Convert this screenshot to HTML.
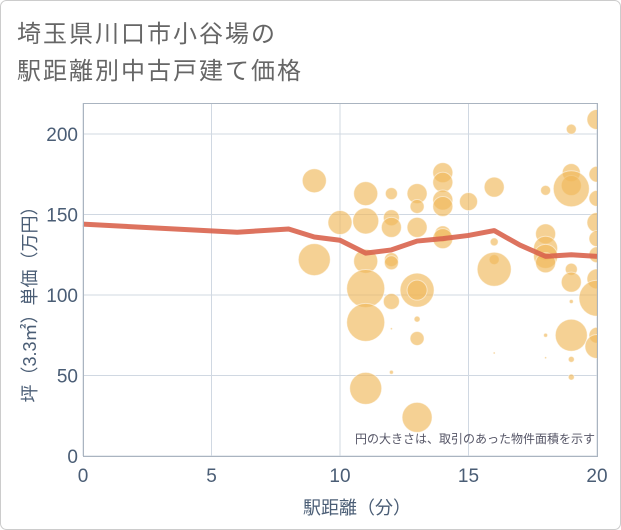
<!DOCTYPE html>
<html><head><meta charset="utf-8"><style>
body{margin:0;background:#fff;}
svg{display:block;font-family:"Liberation Sans","Noto Sans CJK JP",sans-serif;}
</style></head><body>
<svg id="chart" width="621" height="530">
<rect x="0.5" y="0.5" width="620" height="529" rx="6" fill="#fff" stroke="#ccc"/>
<text x="17" y="42" font-size="24" letter-spacing="2" fill="#666">埼玉県川口市小谷場の</text>
<text x="17" y="79" font-size="24" letter-spacing="2" fill="#666">駅距離別中古戸建て価格</text>
<g id="grid"></g>
<g id="bubbles"></g>
<g id="line"></g>
<rect x="83.5" y="103.5" width="514" height="353" fill="none" stroke="#aab4c0"/>
<g id="axes"></g>
<text x="595" y="443" font-size="12" fill="#556" text-anchor="end">円の大きさは、取引のあった物件面積を示す</text>
<text x="357" y="514" font-size="18" fill="#4a5d75" text-anchor="middle">駅距離（分）</text>
<text transform="translate(36,300) rotate(-90)" font-size="18" fill="#4a5d75" text-anchor="middle">坪（3.3㎡）単価（万円）</text>
</svg>
<script>
const xTicks=[0,5,10,15,20];
const yTicks=[0,50,100,150,200];
const bubbleX=[9,9,10,11,11,11,11,11,11,12,12,12,12,12,12,12,12,13,13,13,13,13,13,13,13,14,14,14,14,14,14,15,16,16,16,16,16,18,18,18,18,18,18,18,19,19,19,19,19,19,19,19,19,19,20,20,20,20,20,20,20,20,20,20];
const bubbleY=[171,122,145,163,146,121,104,83,42,163,148,142,122,120,96,79,52,163,155,142,103,103,85,73,24,176,170,159,155,138,135,158,167,133,122,116,64,165,138,129,124,120,75,61,203,176,168,166,116,108,96,75,60,49,209,175,160,145,135,125,110,98,75,68];
const bubbleR=[12,16,12,12,13,12,19,19,16,6,8,10,7,7,8,1,2,10,7,10,17,10,3,7,15,10,10,10,10,8,10,9,10,4,5,17,1,5,10,12,12,10,2,1,5,9,10,18,6,10,2,16,3,3,10,8,8,10,8,8,10,18,8,12];
const lineX=[0,6,8,9,10,11,12,13,14,15,16,17,18,19,20];
const lineY=[144,139,141,136,134,126,128,133.5,135,137,140,131,124,125,124];
const X0=83,X1=597,Y0=456,Y1=134;
const sx=v=>X0+(X1-X0)*v/20;
const sy=v=>Y0-(Y0-Y1)*v/200;
const NS="http://www.w3.org/2000/svg";
const mk=(t,a,p)=>{const e=document.createElementNS(NS,t);for(const k in a)e.setAttribute(k,a[k]);p.appendChild(e);return e;};
const grid=document.getElementById('grid'),axes=document.getElementById('axes');
xTicks.forEach(v=>{
 const l=mk('line',{x1:sx(v),x2:sx(v),y1:103,y2:456,stroke:'#d0d8e2'},grid);
 
 
 const t=mk('text',{x:sx(v),y:482,'font-size':19,fill:'#4a5d75','text-anchor':'middle'},axes);
 t.textContent=v;
 
 
});
yTicks.forEach(v=>{
 const l=mk('line',{x1:83,x2:597,y1:sy(v),y2:sy(v),stroke:'#d0d8e2'},grid);
 
 
 const t=mk('text',{x:78,y:sy(v)+7,'font-size':19,fill:'#4a5d75','text-anchor':'end'},axes);
 t.textContent=v;
 
 
});
const bg=document.getElementById('bubbles');
const cp=mk('clipPath',{id:'pc'},document.getElementById('chart'));
mk('rect',{x:83,y:103,width:514,height:353},cp);
bg.setAttribute('clip-path','url(#pc)');
bubbleX.forEach((x,i)=>{
 const c=mk('circle',{cx:sx(x),cy:sy(bubbleY[i]),r:bubbleR[i],fill:'#f0b95a','fill-opacity':0.65,stroke:'#fff','stroke-opacity':0.5},bg);
 
 
});
const p=mk('polyline',{points:lineX.map((x,i)=>sx(x)+','+sy(lineY[i])).join(' '),fill:'none',stroke:'#d9644e',opacity:0.9,'stroke-width':5,'stroke-linejoin':'round'},document.getElementById('line'));


</script>
</body></html>
